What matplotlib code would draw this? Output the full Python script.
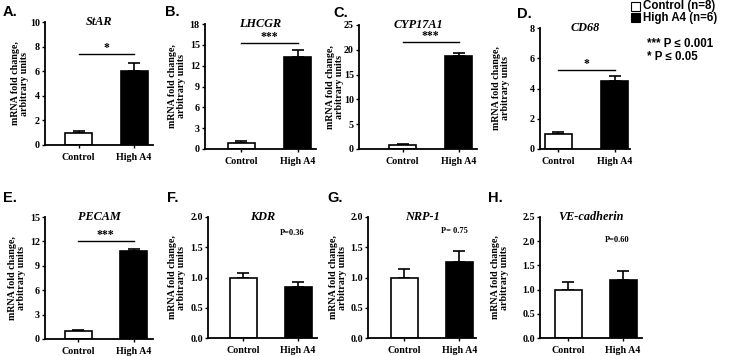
import matplotlib
matplotlib.use("Agg")
import matplotlib.pyplot as plt
from matplotlib.patches import Rectangle

# ---------------- data ----------------
groups = ["Control", "High A4"]
genes = ["StAR", "LHCGR", "CYP17A1", "CD68", "PECAM", "KDR", "NRP-1", "VE-cadherin"]
panel_letters = ["A.", "B.", "C.", "D.", "E.", "F.", "G.", "H."]
control_mean = [1.0, 0.9, 0.9, 1.0, 0.95, 1.0, 1.0, 1.0]
control_err = [0.16, 0.2, 0.2, 0.12, 0.12, 0.08, 0.14, 0.15]
high_mean = [6.05, 13.2, 18.7, 4.52, 10.8, 0.84, 1.26, 1.19]
high_err = [0.65, 1.0, 0.6, 0.28, 0.25, 0.09, 0.18, 0.2]
y_max = [10, 18, 25, 8, 15, 2.0, 2.0, 2.5]
y_step = [2, 3, 5, 2, 3, 0.5, 0.5, 0.5]
significance = ["*", "***", "***", "*", "***", None, None, None]
sig_line_y = [7.4, 15.3, 21.5, 5.2, 12.0, None, None, None]
p_text = [None, None, None, None, None, "P=0.36", "P= 0.75", "P=0.60"]
p_text_y = [None, None, None, None, None, 1.74, 1.77, 2.02]
legend_labels = ["Control (n=8)", "High A4 (n=6)"]
legend_notes = ["*** P \u2264 0.001", "* P \u2264 0.05"]

# ---------------- layout (pixels) ----------------
W, H = 729, 356
# left, right, top, bottom, ctrl centre, high centre, ylabel centre x, letter x, letter y
layout = [
    (45, 153, 22, 145, 78.5, 134, 20, 3, 12),
    (205, 316, 24, 149, 241, 297.5, 177, 165, 12),
    (359, 477, 25, 149, 402.5, 458.5, 335, 333, 13),
    (540, 630, 28, 149, 558, 614.5, 501, 517, 14),
    (45, 153, 217, 339, 78, 133.5, 17, 3, 198),
    (208, 317, 217, 338, 243, 298, 177, 167, 198),
    (368, 476, 217, 338, 404.5, 459.5, 338, 327, 198),
    (540, 642, 217, 338, 568, 623, 500, 488, 198),
]
bar_px = 27

serif = "Liberation Serif"
sans = "Liberation Sans"

fig = plt.figure(figsize=(W / 100, H / 100), dpi=100)

for i in range(8):
    l, r, t, b, cc, hc, ylx, lx, ly = layout[i]
    ax = fig.add_axes([l / W, 1 - b / H, (r - l) / W, (b - t) / H])
    u = hc - cc
    ax.set_xlim(-(cc - l) / u, 1 + (r - hc) / u)
    ax.set_ylim(0, y_max[i])
    w = bar_px / u
    ax.bar([0], [control_mean[i]], width=w, color="white", edgecolor="black", linewidth=1.2, zorder=2)
    ax.bar([1], [high_mean[i]], width=w, color="black", edgecolor="black", linewidth=1.2, zorder=2)
    ax.errorbar([0], [control_mean[i]], yerr=[[0], [control_err[i]]], fmt="none",
                ecolor="black", elinewidth=1.2, capsize=4, capthick=1.2, zorder=1)
    ax.errorbar([1], [high_mean[i]], yerr=[[0], [high_err[i]]], fmt="none",
                ecolor="black", elinewidth=1.2, capsize=4, capthick=1.2, zorder=1)
    for s in ["top", "right"]:
        ax.spines[s].set_visible(False)
    for s in ["left", "bottom"]:
        ax.spines[s].set_linewidth(1.3)
    n = int(round(y_max[i] / y_step[i]))
    ticks = [k * y_step[i] for k in range(n + 1)]
    ax.set_yticks(ticks)
    if y_step[i] < 1:
        ax.set_yticklabels([f"{v:.1f}" for v in ticks])
    else:
        ax.set_yticklabels([f"{int(v)}" for v in ticks])
    ax.set_xticks([0, 1])
    ax.set_xticklabels(groups)
    ax.tick_params(axis="both", length=2.5, width=1.0, pad=1.2, labelsize=7.2)
    for lab in ax.get_xticklabels() + ax.get_yticklabels():
        lab.set_fontfamily(serif)
        lab.set_fontweight("bold")
    ax.tick_params(axis="x", pad=3)
    ax.set_ylabel("mRNA fold change,\narbitrary units", fontfamily=serif, fontweight="bold",
                  fontsize=7.2, linespacing=1.05)
    ax.yaxis.label.set_va("center")
    ax.yaxis.set_label_coords((ylx - l) / (r - l), 0.5)
    ax.text(0.5, 1.0, genes[i], transform=ax.transAxes, ha="center", va="center",
            fontfamily=serif, fontweight="bold", fontstyle="italic", fontsize=8.8)
    if significance[i]:
        ax.plot([0, 1], [sig_line_y[i]] * 2, color="black", lw=1.0)
        ax.text(0.5, sig_line_y[i], significance[i], ha="center", va="bottom",
                fontfamily=serif, fontweight="bold", fontsize=8.5)
    if p_text[i]:
        ax.text(0.9, p_text_y[i], p_text[i], ha="center", va="center",
                fontfamily=serif, fontweight="bold", fontsize=6)
    fig.text(lx / W, 1 - ly / H, panel_letters[i], ha="left", va="center",
             fontfamily=sans, fontweight="bold", fontsize=10.5)

# legend
fig.patches.append(Rectangle((631 / W, 1 - 11 / H), 9 / W, 9 / H, transform=fig.transFigure,
                             facecolor="white", edgecolor="black", linewidth=0.8))
fig.patches.append(Rectangle((631 / W, 1 - 22 / H), 9 / W, 9 / H, transform=fig.transFigure,
                             facecolor="black", edgecolor="black", linewidth=0.8))
fig.text(643 / W, 1 - 6.5 / H, legend_labels[0], ha="left", va="center",
         fontfamily=sans, fontweight="bold", fontsize=8.3)
fig.text(643 / W, 1 - 17.5 / H, legend_labels[1], ha="left", va="center",
         fontfamily=sans, fontweight="bold", fontsize=8.3)
fig.text(647 / W, 1 - 44 / H, legend_notes[0], ha="left", va="center",
         fontfamily=sans, fontweight="bold", fontsize=8.3)
fig.text(647 / W, 1 - 57 / H, legend_notes[1], ha="left", va="center",
         fontfamily=sans, fontweight="bold", fontsize=8.3)

fig.savefig("out.png", dpi=100)
